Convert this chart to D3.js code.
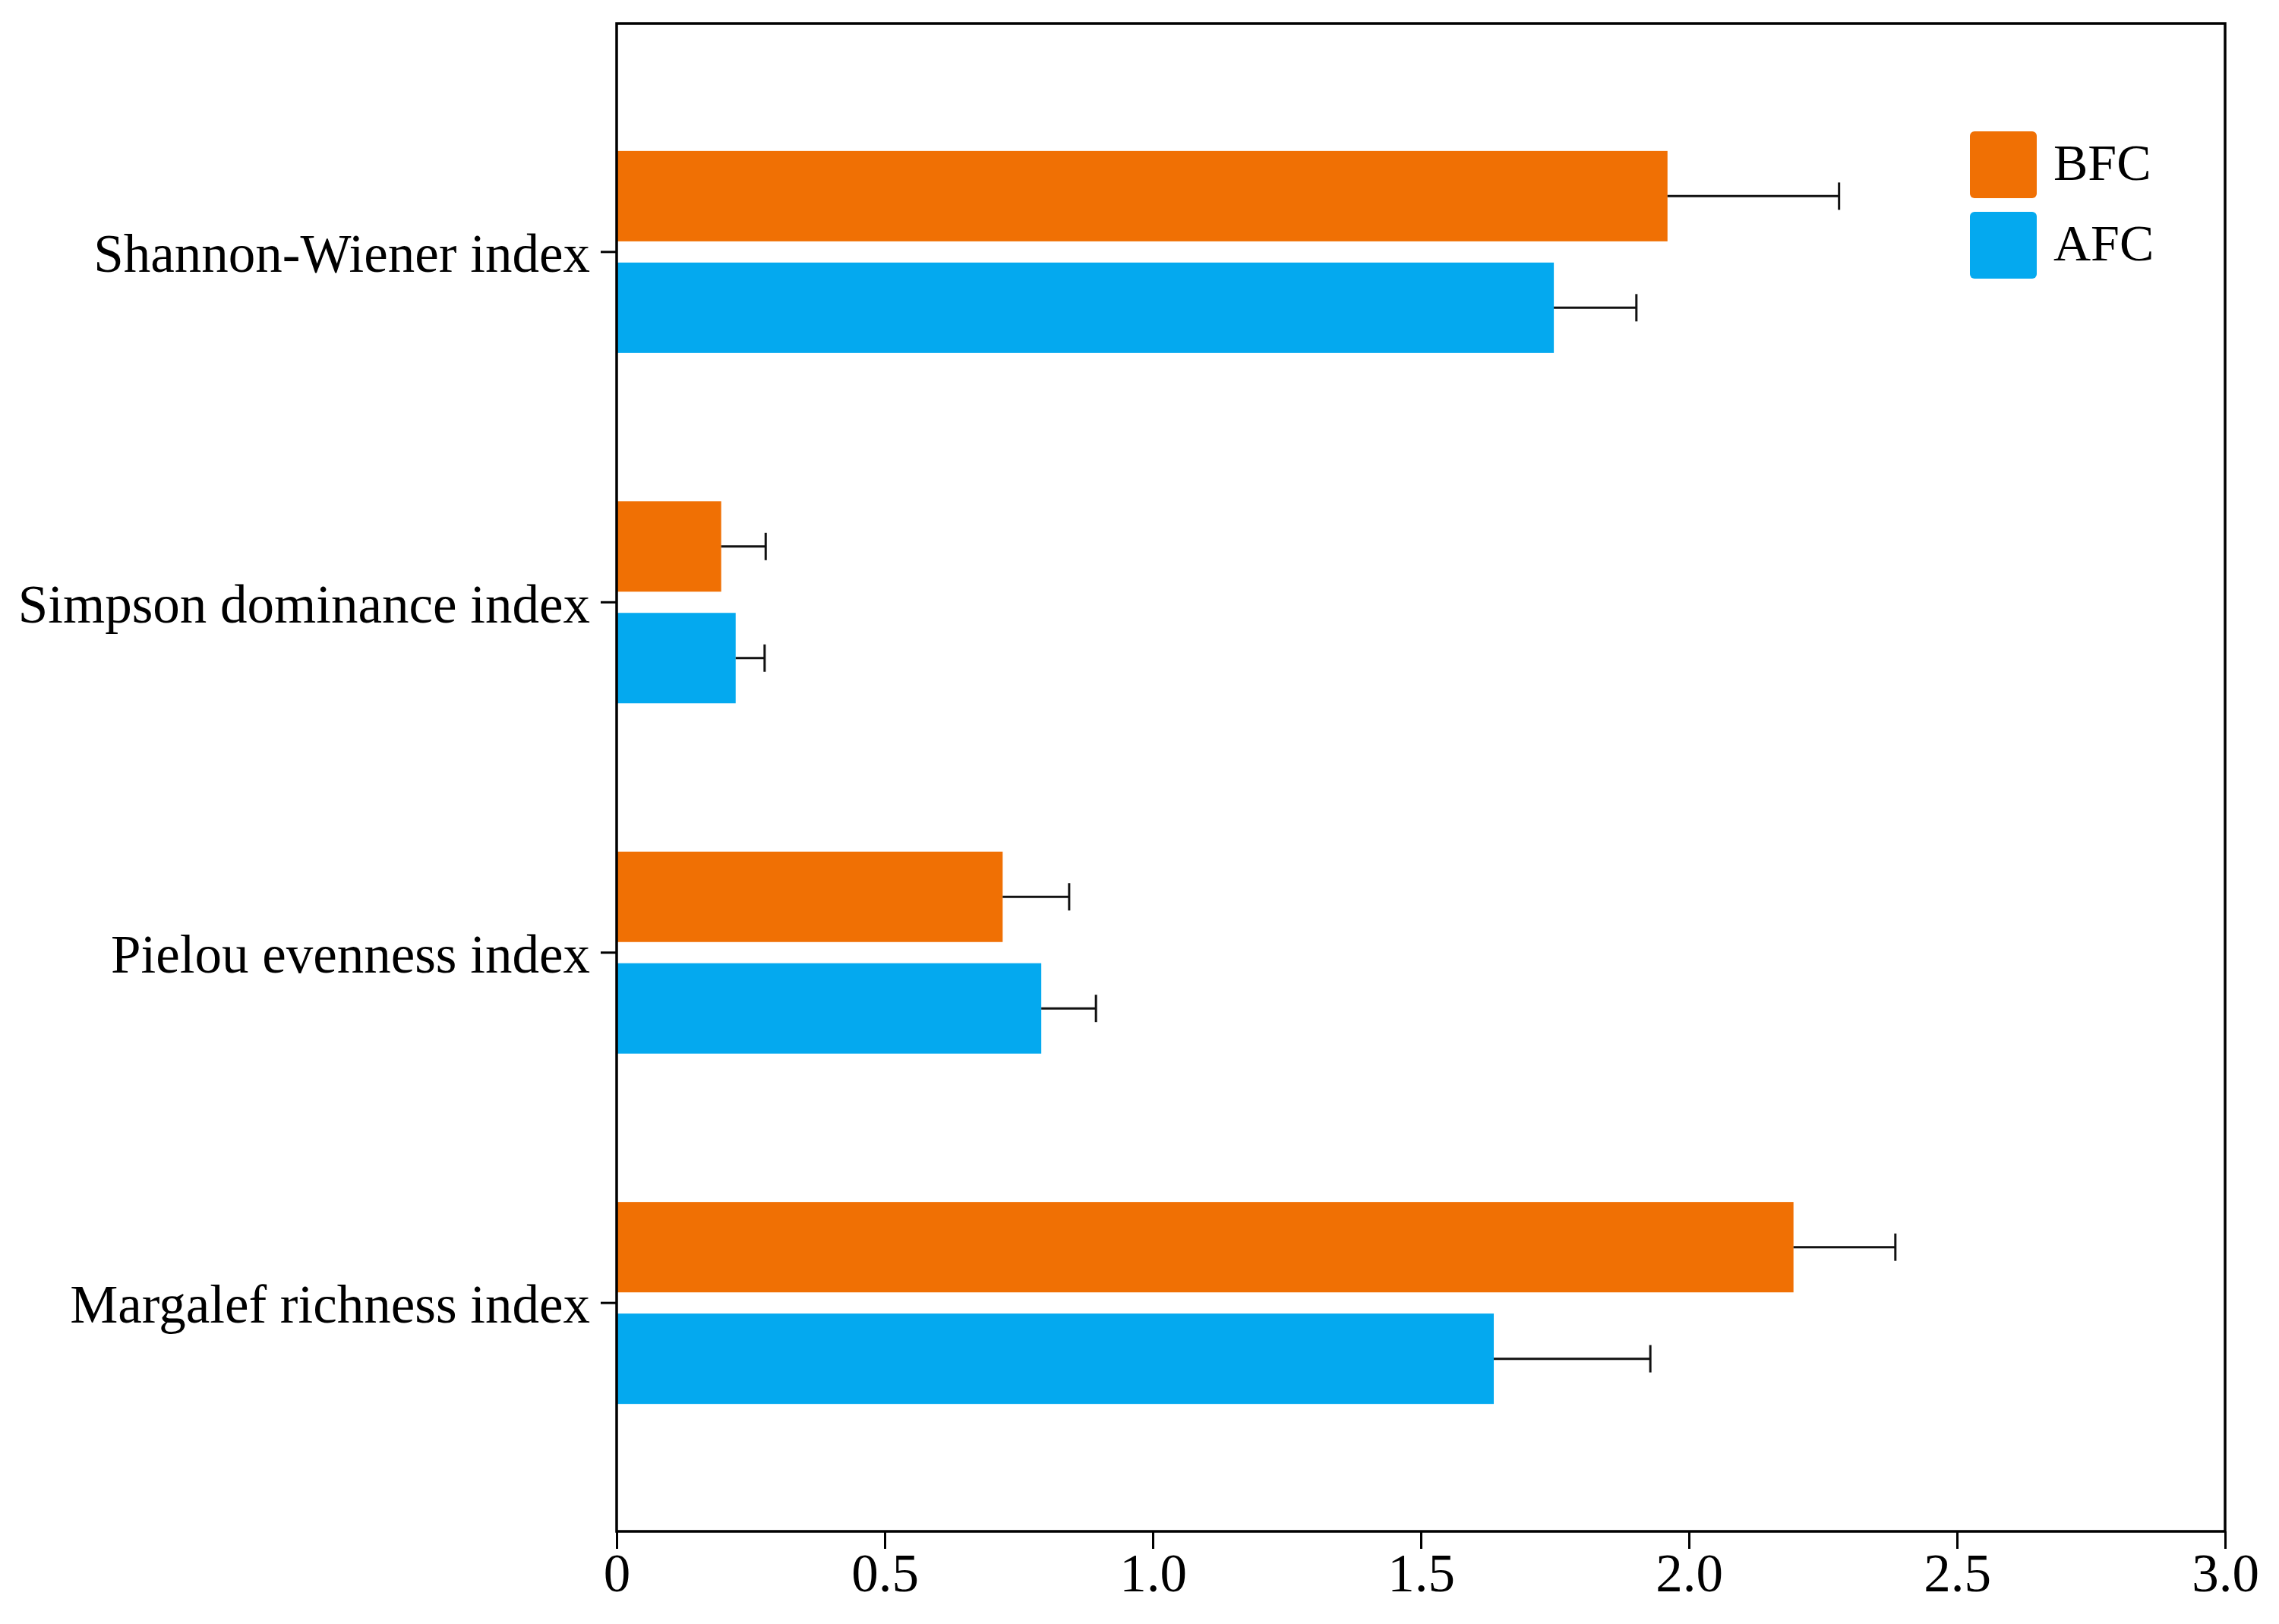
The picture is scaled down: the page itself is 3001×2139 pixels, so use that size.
<!DOCTYPE html>
<html>
<head>
<meta charset="utf-8">
<script src="https://cdn.jsdelivr.net/npm/d3@7.9.0/dist/d3.min.js"></script>
<style>
  body { margin: 0; background: #fff; }
  svg { display: block; }
  text { font-family: "Liberation Serif", "Times New Roman", serif; fill: #000; }
</style>
</head>
<body>
<svg id="chart" width="3001" height="2139"></svg>
<script>
// data
let categories = ['Shannon-Wiener index', 'Simpson dominance index', 'Pielou evenness index', 'Margalef richness index'];
let series = ['BFC', 'AFC'];
let bfcValues = [1.96, 0.195, 0.72, 2.195];
let bfcErrors = [0.32, 0.083, 0.124, 0.19];
let afcValues = [1.748, 0.222, 0.792, 1.636];
let afcErrors = [0.154, 0.054, 0.102, 0.292];
let xTicks = [0, 0.5, 1.0, 1.5, 2.0, 2.5, 3.0];
let colors = { BFC: '#f07004', AFC: '#04a9ef' };

let rows = [];
categories.forEach((c, i) => {
  rows.push({ cat: c, key: 'BFC', value: bfcValues[i], err: bfcErrors[i] });
  rows.push({ cat: c, key: 'AFC', value: afcValues[i], err: afcErrors[i] });
});

let margin = { top: 31, right: 71, bottom: 122, left: 812 };
let width = 3001, height = 2139;
let svg = d3.select('#chart');
svg.append('rect').attr('width', width).attr('height', height).attr('fill', '#fff');

let x = d3.scaleLinear().domain([0, 3]).range([margin.left, width - margin.right]);
let y = d3.scaleBand().domain(categories)
  .range([margin.top, height - margin.bottom])
  .paddingInner(0).paddingOuter(0.152);
// sub band for the two series inside each category
let y1 = d3.scaleBand().domain(series).range([-133, 133]).paddingInner(0.19);

// bars
svg.append('g')
  .selectAll('rect')
  .data(rows)
  .join('rect')
  .attr('x', x(0))
  .attr('y', d => y(d.cat) + y.bandwidth() / 2 + y1(d.key))
  .attr('width', d => x(d.value) - x(0))
  .attr('height', y1.bandwidth())
  .attr('fill', d => colors[d.key]);

// error bars (one sided)
let eb = svg.append('g').attr('stroke', '#111').attr('stroke-width', 3);
rows.forEach(d => {
  let cy = y(d.cat) + y.bandwidth() / 2 + y1(d.key) + y1.bandwidth() / 2;
  eb.append('line')
    .attr('x1', x(d.value)).attr('x2', x(d.value + d.err))
    .attr('y1', cy).attr('y2', cy);
  eb.append('line')
    .attr('x1', x(d.value + d.err)).attr('x2', x(d.value + d.err))
    .attr('y1', cy - 18).attr('y2', cy + 18);
});

// frame
svg.append('rect')
  .attr('x', x(0)).attr('y', margin.top)
  .attr('width', x(3) - x(0)).attr('height', height - margin.bottom - margin.top)
  .attr('fill', 'none').attr('stroke', '#000').attr('stroke-width', 3.5);

// x axis
let xAxis = svg.append('g')
  .attr('transform', `translate(0,${height - margin.bottom})`)
  .call(d3.axisBottom(x).tickValues(xTicks)
    .tickFormat(d => d === 0 ? '0' : d3.format('.1f')(d))
    .tickSize(23).tickSizeOuter(0).tickPadding(6));
xAxis.select('.domain').remove();
xAxis.selectAll('line').attr('stroke', '#000').attr('stroke-width', 3);
xAxis.selectAll('text').attr('font-size', 71).attr('font-family', '"Liberation Serif", serif');

// y axis
let yAxis = svg.append('g')
  .attr('transform', `translate(${margin.left},0)`)
  .call(d3.axisLeft(y).tickSize(21).tickSizeOuter(0).tickPadding(14));
yAxis.select('.domain').remove();
yAxis.selectAll('line').attr('stroke', '#000').attr('stroke-width', 3);
yAxis.selectAll('text')
  .attr('font-size', 71)
  .attr('dy', '0.37em')
  .attr('font-family', '"Liberation Serif", serif');

// legend
let legend = svg.append('g');
series.forEach((s, i) => {
  let ly = 173 + i * 106;
  legend.append('rect')
    .attr('x', 2594).attr('y', ly)
    .attr('width', 88).attr('height', 88)
    .attr('rx', 6)
    .attr('fill', colors[s]);
  legend.append('text')
    .attr('x', 2704).attr('y', ly + 64)
    .attr('font-size', 68)
    .text(s);
});
</script>
</body>
</html>
